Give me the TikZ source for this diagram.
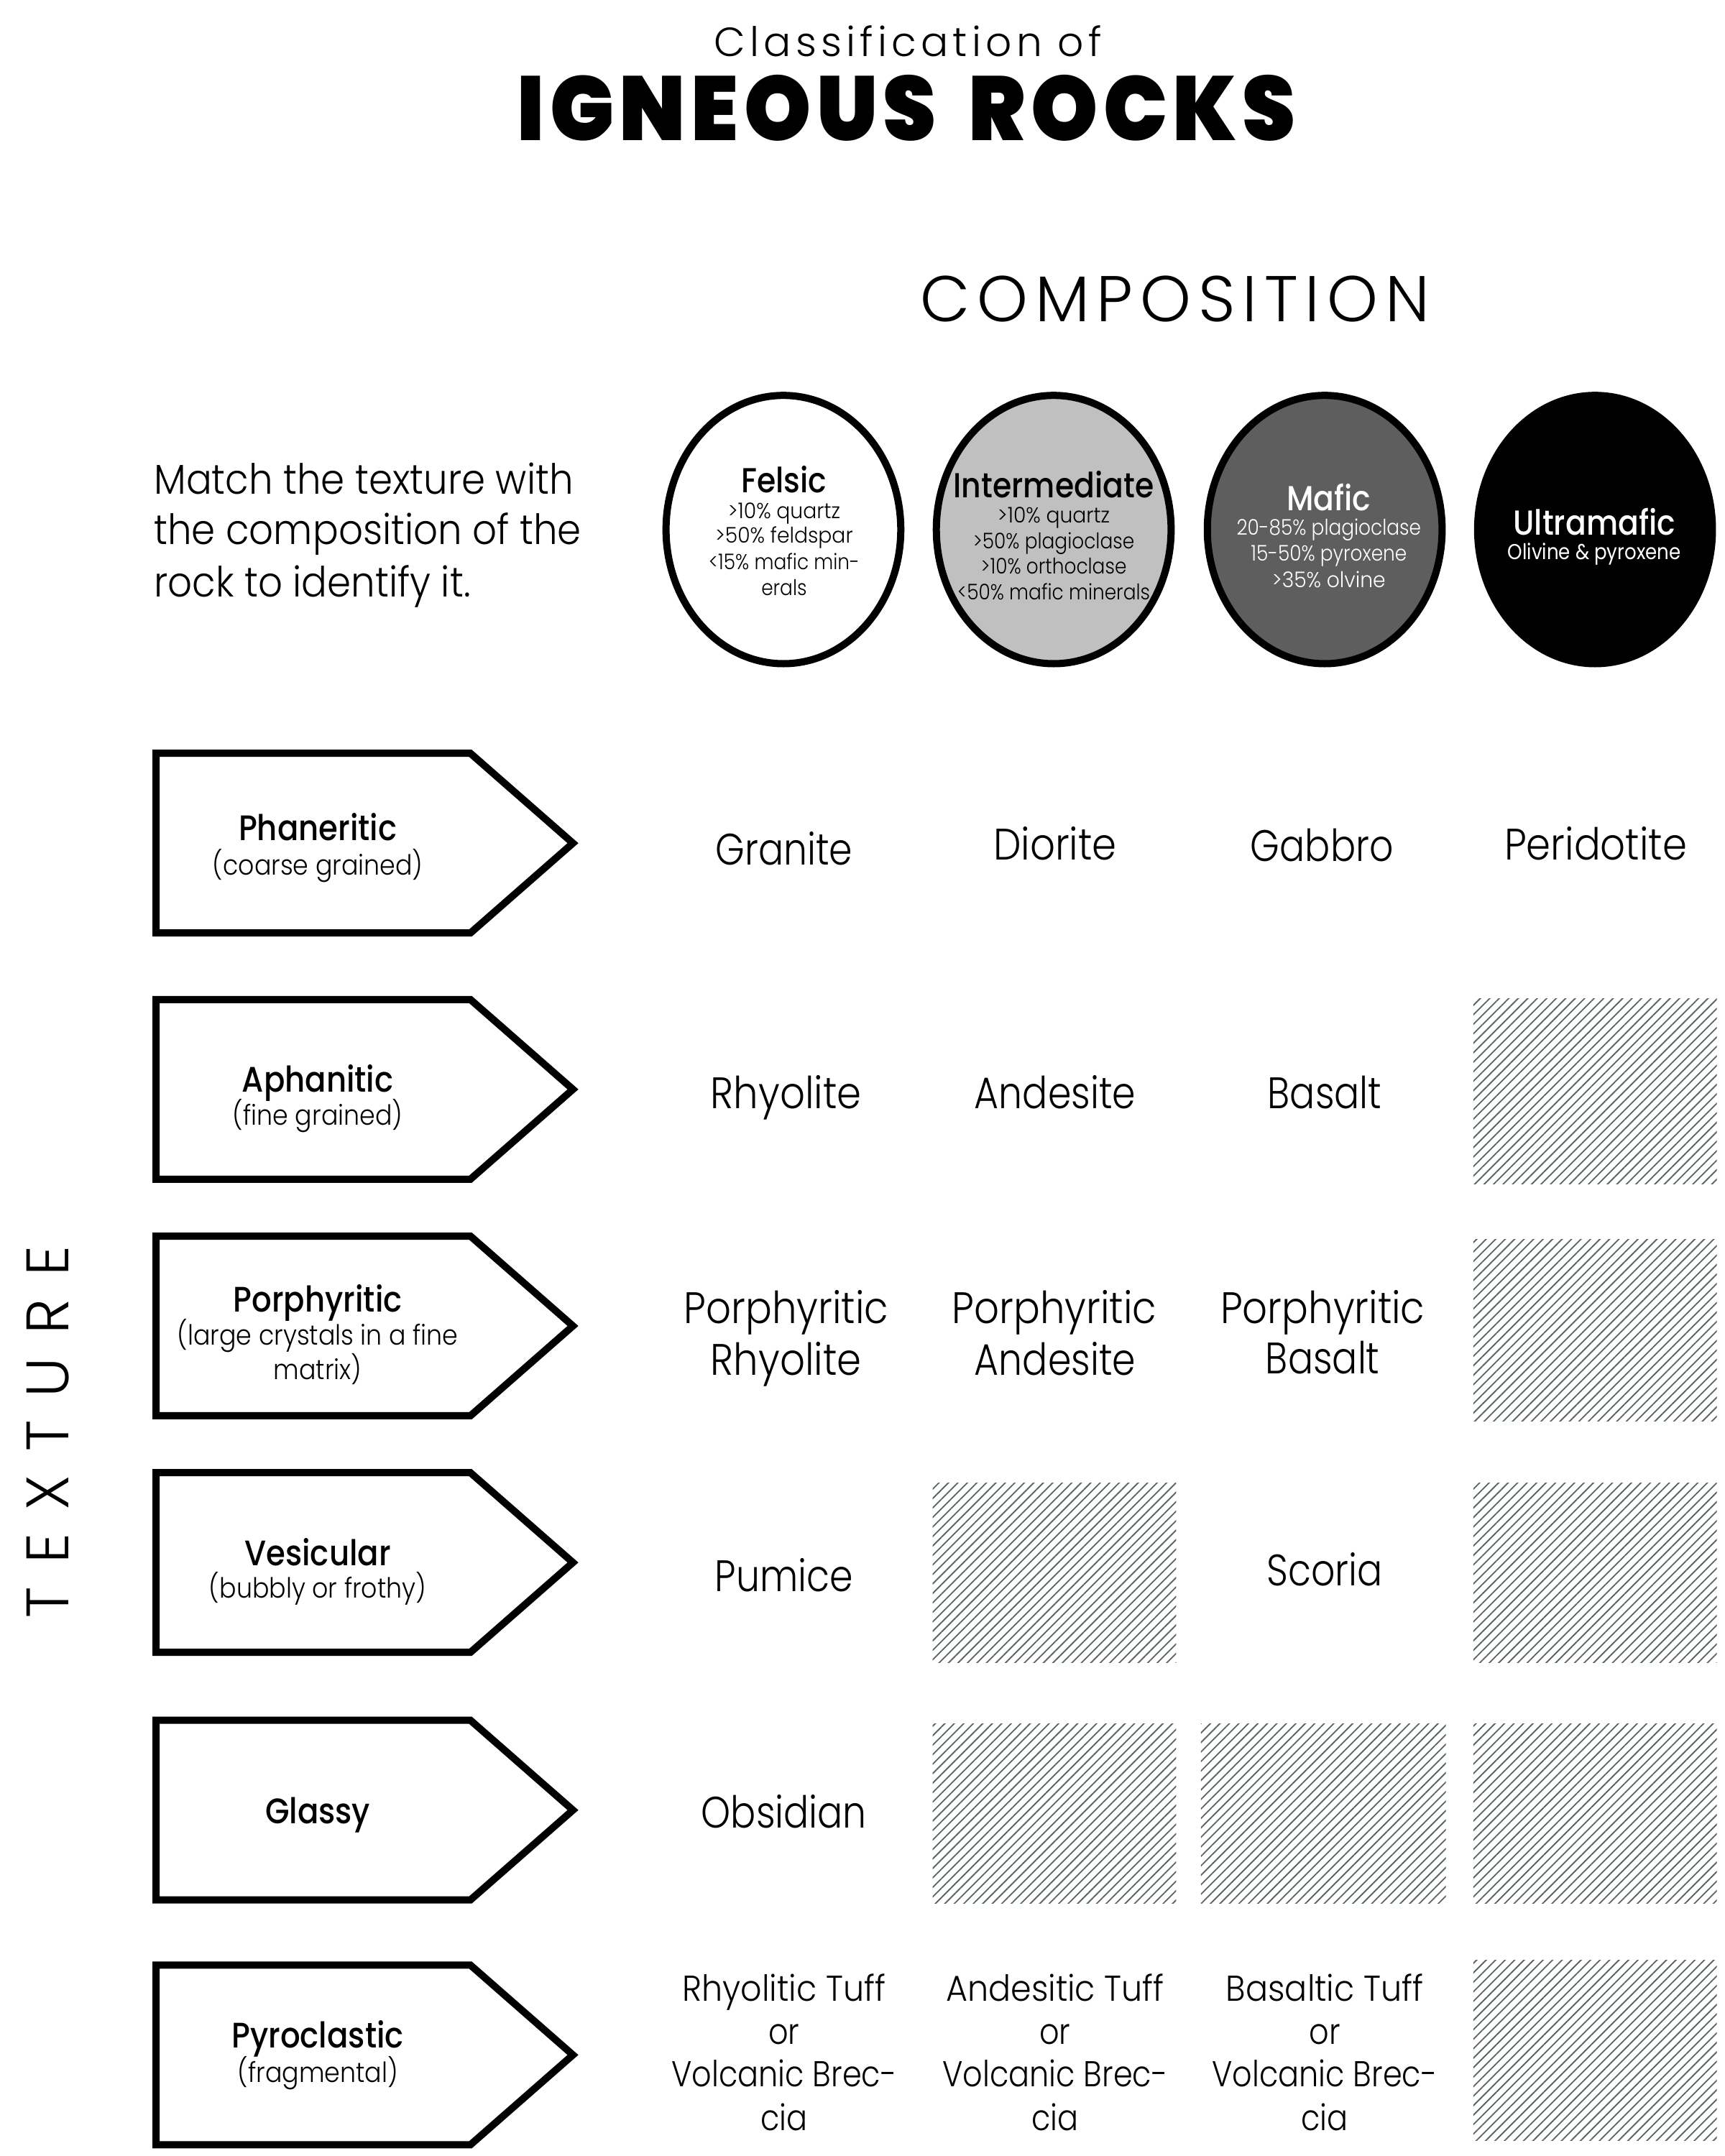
\documentclass[tikz,border=0pt]{standalone}
\usepackage{fontspec}
\usetikzlibrary{shapes.geometric,patterns.meta}
\newfontfamily\lightf[FakeStretch=0.89]{Poppins Light}
\newfontfamily\narrowf[FakeStretch=0.85]{Poppins Light}
\newfontfamily\sidef[FakeStretch=0.915]{Poppins Light}
\newfontfamily\tuffF[FakeStretch=0.86]{Poppins Light}
\newfontfamily\tuffH[FakeStretch=0.92]{Poppins Light}
\newfontfamily\smallf[FakeStretch=0.88]{Poppins Light}
\newfontfamily\smallw[FakeStretch=0.94]{Poppins Light}
\newfontfamily\subf[FakeStretch=0.90]{Poppins Light}
\newfontfamily\medf[FakeStretch=0.88]{Poppins Medium}
\newfontfamily\regf[FakeStretch=0.87]{Poppins}
\newfontfamily\blackf[FakeStretch=0.935,LetterSpace=6,WordSpace=1.6]{Poppins Black}
\newfontfamily\spacedf[LetterSpace=11]{Poppins Light}
\newfontfamily\widef[LetterSpace=39]{Poppins Light}
\definecolor{midgray}{HTML}{C0C0C0}
\definecolor{darkgray}{HTML}{5E5E5E}
\definecolor{hatchline}{HTML}{5A6464}
\newcommand\fs[1]{\fontsize{#1}{#1}\selectfont}
\tikzset{
  x=0.5742pt,y=-0.5742pt,
  every node/.style={inner sep=0pt,outer sep=0pt,anchor=base},
  celltext/.style={font=\lightf\fs{18.4}},
  cellnarrow/.style={font=\narrowf\fs{18.4}},
  tufftext/.style={font=\tuffF\fs{15}},
  tuffhead/.style={font=\tuffH\fs{15}},
  sidetext/.style={font=\sidef\fs{17.4}},
  labelhead/.style={font=\medf\fs{14.8}},
  labelsub/.style={font=\subf\fs{11.6}},
  circhead/.style={font=\medf\fs{14.5}},
  circsub/.style={font=\smallf\fs{9}},
  circsubw/.style={font=\smallw\fs{9}},
  ultrasub/.style={font=\regf\fs{9}},
  pentbox/.style={draw=black,line width=3pt,fill=white,miter limit=10},
  circbox/.style={shape=ellipse,draw=black,line width=3pt,minimum width=98pt,minimum height=112pt,anchor=center},
  hatchbox/.style={pattern={Lines[angle=45,distance=2.8pt,line width=0.55pt]},pattern color=hatchline,draw=none},
}
\newcommand\tx[5]{\node[#1] (#2) at (#3,#4) {#5};}
\newcommand\pent[1]{\draw[pentbox] (113.4,#1-65.3) -- (342,#1-65.3) -- (416.5,#1) -- (342,#1+65.3) -- (113.4,#1+65.3) -- cycle;}
\newcommand\hatch[4]{\fill[hatchbox] (#1,#2) rectangle (#3,#4);}
\begin{document}
\begin{tikzpicture}
\useasboundingbox (0,0) rectangle (1254,1567.5);
% titles
\node[font=\spacedf\fs{17}] (t1) at (660,41) {Classification of};
\node[font=\blackf\fs{38}] (t2) at (659,102) {IGNEOUS ROCKS};
\node[font=\spacedf\fs{27}] (comp) at (854,234) {COMPOSITION};
\node[font=\widef\fs{25},rotate=90,anchor=base] (texture) at (50,1041) {TEXTURE};
% side text
\tx{sidetext,anchor=base west}{s1}{112}{359}{Match the texture with}
\tx{sidetext,anchor=base west}{s2}{112}{396}{the composition of the}
\tx{sidetext,anchor=base west}{s3}{112}{434}{rock to identify it.}
% circles
\node[circbox,fill=white] (felsic) at (569.5,385) {};
\node[circbox,fill=midgray] (inter) at (766,385) {};
\node[circbox,fill=darkgray] (mafic) at (963,385) {};
\node[circbox,fill=black] (ultra) at (1159.5,385) {};
\tx{circhead}{fh}{570}{358}{Felsic}
\tx{circsubw}{f1}{570}{377}{>10\% quartz}
\tx{circsubw}{f2}{570}{395}{>50\% feldspar}
\tx{circsub}{f3}{570}{414}{<15\% mafic min-}
\tx{circsub}{f4}{570}{433}{erals}
\tx{circhead}{ih}{766}{362}{Intermediate}
\tx{circsubw}{i1}{766}{380}{>10\% quartz}
\tx{circsub}{i2}{766}{399}{>50\% plagioclase}
\tx{circsub}{i3}{766}{417}{>10\% orthoclase}
\tx{circsub}{i4}{766}{436}{<50\% mafic minerals}
\tx{circhead,text=white}{mh}{966}{371}{Mafic}
\tx{circsub,text=white}{m1}{966}{389}{20-85\% plagioclase}
\tx{circsub,text=white}{m2}{966}{408}{15-50\% pyroxene}
\tx{circsubw,text=white}{m3}{966}{427}{>35\% olvine}
\tx{circhead,text=white}{uh}{1159}{389}{Ultramafic}
\tx{ultrasub,text=white}{u1}{1159}{407}{Olivine \& pyroxene}
% pentagons
\pent{613}\pent{792}\pent{964}\pent{1136}\pent{1316}\pent{1494}
\tx{labelhead}{l1}{231}{611}{Phaneritic}
\tx{labelsub}{l1s}{231}{636}{(coarse grained)}
\tx{labelhead}{l2}{231}{794}{Aphanitic}
\tx{labelsub}{l2s}{231}{818}{(fine grained)}
\tx{labelhead}{l3}{231}{954}{Porphyritic}
\tx{labelsub}{l3s}{231}{978}{(large crystals in a fine}
\tx{labelsub}{l3t}{231}{1003}{matrix)}
\tx{labelhead}{l4}{231}{1138}{Vesicular}
\tx{labelsub}{l4s}{231}{1162}{(bubbly or frothy)}
\tx{labelhead}{l5}{231}{1326}{Glassy}
\tx{labelhead}{l6}{231}{1489}{Pyroclastic}
\tx{labelsub}{l6s}{231}{1514}{(fragmental)}
% hatches
\hatch{1071}{726}{1248}{861}
\hatch{1071}{901}{1248}{1033}
\hatch{1071}{1078}{1248}{1209}
\hatch{1071}{1253}{1248}{1384}
\hatch{1071}{1425}{1248}{1556}
\hatch{678}{1078}{855}{1209}
\hatch{678}{1253}{855}{1384}
\hatch{873}{1253}{1051}{1384}
% cells
\tx{cellnarrow}{c11}{570}{629}{Granite}
\tx{celltext}{c12}{767}{625}{Diorite}
\tx{cellnarrow}{c13}{961}{626}{Gabbro}
\tx{celltext}{c14}{1160}{625}{Peridotite}
\tx{celltext}{c21}{571.5}{806}{Rhyolite}
\tx{cellnarrow}{c22}{767}{806}{Andesite}
\tx{cellnarrow}{c23}{963}{806}{Basalt}
\tx{celltext}{c31}{571.5}{962}{Porphyritic}
\tx{celltext}{c31b}{571.5}{1000}{Rhyolite}
\tx{celltext}{c32}{766.5}{962}{Porphyritic}
\tx{cellnarrow}{c32b}{767}{1000}{Andesite}
\tx{celltext}{c33}{961.5}{962}{Porphyritic}
\tx{cellnarrow}{c33b}{961.5}{999}{Basalt}
\tx{cellnarrow}{c41}{570}{1157}{Pumice}
\tx{cellnarrow}{c43}{963}{1153}{Scoria}
\tx{cellnarrow}{c51}{570}{1329}{Obsidian}
\tx{tuffhead}{c61}{570}{1455}{Rhyolitic Tuff}
\tx{tufftext}{c61b}{570}{1486}{or}
\tx{tufftext}{c61c}{570}{1517}{Volcanic Brec-}
\tx{tufftext}{c61d}{570}{1549}{cia}
\tx{tuffhead}{c62}{767}{1455}{Andesitic Tuff}
\tx{tufftext}{c62b}{767}{1486}{or}
\tx{tufftext}{c62c}{767}{1517}{Volcanic Brec-}
\tx{tufftext}{c62d}{767}{1549}{cia}
\tx{tuffhead}{c63}{963}{1455}{Basaltic Tuff}
\tx{tufftext}{c63b}{963}{1486}{or}
\tx{tufftext}{c63c}{963}{1517}{Volcanic Brec-}
\tx{tufftext}{c63d}{963}{1549}{cia}
\end{tikzpicture}
\end{document}
